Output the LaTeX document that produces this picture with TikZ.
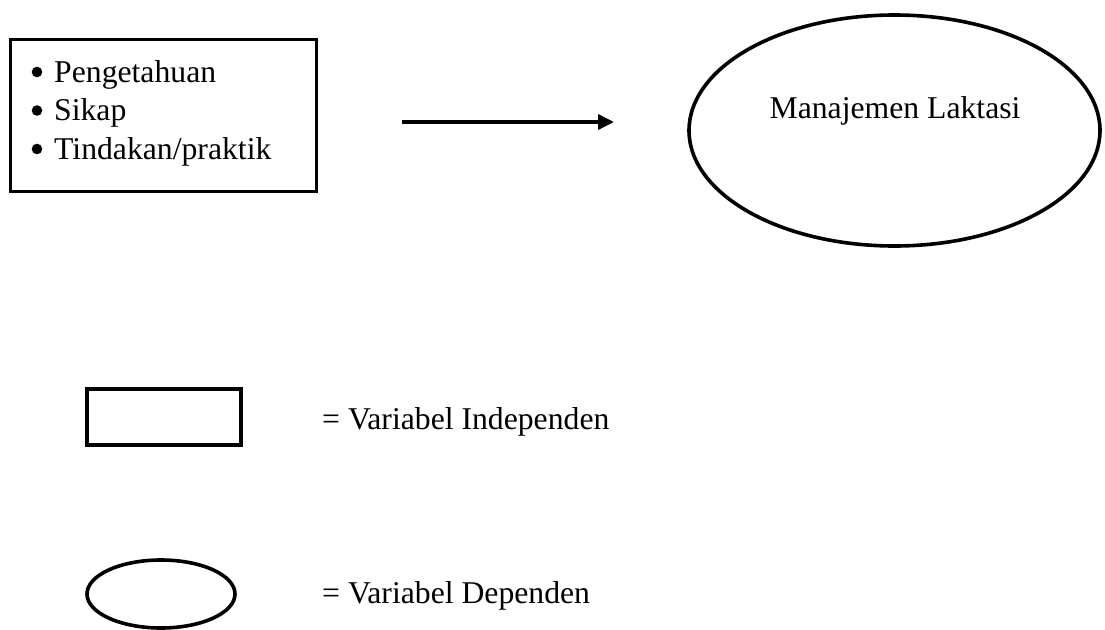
\documentclass[tikz,border=0pt]{standalone}
\usepackage{fontspec}
\setmainfont{Liberation Serif}
\usepackage{tikz}
\usetikzlibrary{arrows.meta,shapes.geometric}

\begin{document}
\begin{tikzpicture}[x=1pt,y=-1pt,>={Triangle[length=16pt,width=15pt]},
  font=\fontsize{31.7}{38}\selectfont,
  varbox/.style={draw,line width=#1,rectangle,inner sep=0pt},
  varoval/.style={draw,line width=#1,ellipse,inner sep=0pt},
  lbl/.style={inner sep=0pt,anchor=base west}]
 \useasboundingbox (0,0) rectangle (1105,629);
 \node[varbox=2.6pt,minimum width=306pt,minimum height=152pt] (indep) at (163.5,115.5) {};
 \foreach \txt [count=\i] in {Pengetahuan,Sikap,Tindakan/praktik}{
  \node[lbl] (item\i) at (54,{82+38.5*(\i-1)}) {\txt};
  \fill ([xshift=-17pt,yshift=10pt]item\i.base west) circle (5.3pt);
 }
 \node[varoval=3.6pt,minimum width=411pt,minimum height=231pt] (dep) at (894.5,130.5) {};
 \node[inner sep=0pt,anchor=base] (deplbl) at (895,118) {Manajemen Laktasi};
 \coordinate (arrs) at (402,122);
 \coordinate (arre) at (614,122);
 \draw[line width=3.6pt,->] (arrs)--(arre);
 \node[varbox=3.8pt,minimum width=154pt,minimum height=56pt] (keybox) at (164,417) {};
 \node[lbl] (keyboxlbl) at (322,429) {= Variabel Independen};
 \node[varoval=3.6pt,minimum width=148pt,minimum height=68pt] (keyoval) at (161,594) {};
 \node[lbl] (keyovallbl) at (322,603) {= Variabel Dependen};
\end{tikzpicture}
\end{document}
